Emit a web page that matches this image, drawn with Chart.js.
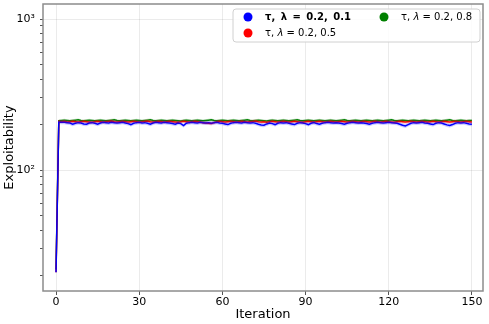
<!DOCTYPE html>
<html>
<head>
<meta charset="utf-8">
<script src="https://cdn.jsdelivr.net/npm/chart.js@4.4.1/dist/chart.umd.min.js"></script>
<style>
  html, body { margin: 0; padding: 0; background: #fff; }
  #c { display: block; }
</style>
</head>
<body>
<canvas id="c" width="489" height="324"></canvas>
<script>
var iterations = Array.from({length: 151}, function(_, i){ return i; });

// mean exploitability per iteration
var blueMean = [
  21,208,207,207,206,205,201,204,206,205,
  202,201,205,206,204,201,205,207,206,205,
  207,206,205,206,207,205,203,200,204,206,
  207,205,206,204,201,205,207,206,205,207,
  206,205,203,201,205,203,197,204,206,207,
  206,205,207,206,205,206,204,206,207,205,
  204,202,200,204,206,207,206,205,207,206,
  205,206,204,201,199,198,202,205,203,200,
  204,206,205,206,204,202,200,204,206,205,
  203,200,204,206,203,201,204,206,207,206,
  205,206,205,203,201,204,206,207,206,205,
  206,205,203,201,204,206,207,206,205,206,
  207,206,205,204,201,198,196,200,204,206,
  205,206,207,205,204,202,200,204,206,205,
  202,199,197,200,204,206,205,206,204,202,
  201
];
var redMean = [
  21,210,209,210,208,209,210,209,208,209,
  210,209,208,207,209,210,209,208,209,210,
  211,209,208,209,210,209,208,209,210,209,
  208,209,210,211,209,208,209,210,209,208,
  209,210,209,208,207,209,210,209,208,209,
  210,209,208,206,205,204,203,206,209,210,
  209,208,209,210,209,208,209,210,209,208,
  209,210,211,209,208,209,207,209,210,209,
  208,209,210,209,208,209,210,209,208,207,
  209,210,209,208,209,210,209,208,209,210,
  209,208,209,210,209,208,209,210,209,208,
  209,210,209,208,209,210,209,208,209,210,
  209,208,207,209,210,209,208,209,210,209,
  208,209,210,209,208,209,210,209,208,209,
  210,209,208,209,210,209,208,209,210,209,
  208
];
var greenMean = [
  22,212,213,214,213,212,213,214,215,213,
  212,213,214,213,212,213,214,213,212,213,
  214,215,213,212,213,214,213,212,213,214,
  213,212,213,214,215,213,212,213,214,213,
  212,213,214,213,212,211,213,214,213,212,
  213,214,213,212,213,214,215,213,212,213,
  214,213,212,213,214,213,212,213,214,215,
  213,212,213,214,213,212,211,213,214,213,
  212,213,214,213,212,213,214,215,213,212,
  213,214,213,212,213,214,213,212,213,214,
  213,212,213,214,215,213,212,213,214,213,
  212,213,214,213,212,213,214,213,212,213,
  214,215,213,212,213,214,213,212,213,214,
  213,212,213,214,213,212,213,214,213,212,
  213,214,215,213,212,213,214,213,212,213,
  213
];
// relative half-width of the shaded band
var blueSpread = 0.03;
var redSpread = 0.025;
var greenSpread = 0.02;

var seriesNames = ['τ, λ = 0.2, 0.1', 'τ, λ = 0.2, 0.5', 'τ, λ = 0.2, 0.8'];
var seriesColors = ['#0000ff', '#ff0000', '#008000'];
var bandColors = ['rgba(0,0,255,0.2)', 'rgba(255,0,0,0.2)', 'rgba(0,128,0,0.2)'];

var xTicks = [0, 30, 60, 90, 120, 150];
var yTicks = [20,30,40,50,60,70,80,90,100,200,300,400,500,600,700,800,900,1000];
var yLabels = {100: '10²', 1000: '10³'};

var FONT = "'DejaVu Sans', sans-serif";

function pts(vals, f) {
  return iterations.map(function(it, i){ return {x: it, y: vals[i] * f}; });
}

var means = [blueMean, redMean, greenMean];
var spreads = [blueSpread, redSpread, greenSpread];
var datasets = [];
for (var s = 0; s < 3; s++) {
  datasets.push({ data: pts(means[s], 1 + spreads[s]), borderWidth: 0, pointRadius: 0, fill: '+1', backgroundColor: bandColors[s] });
  datasets.push({ data: pts(means[s], 1 - spreads[s]), borderWidth: 0, pointRadius: 0, fill: false });
}
for (var s = 0; s < 3; s++) {
  datasets.push({ label: seriesNames[s], data: pts(means[s], 1), borderColor: seriesColors[s], borderWidth: 1.5, pointRadius: 0, fill: false, tension: 0 });
}

var framePlugin = {
  id: 'frame',
  afterDraw: function(chart) {
    var a = chart.chartArea, ctx = chart.ctx;
    ctx.save();
    ctx.strokeStyle = '#8c8c8c';
    ctx.lineWidth = 1.5;
    ctx.strokeRect(a.left, a.top, a.right - a.left, a.bottom - a.top);
    ctx.restore();
  }
};

var legendPlugin = {
  id: 'boxLegend',
  afterDraw: function(chart) {
    var ctx = chart.ctx;
    ctx.save();
    // box
    var bx = 233, by = 9, bw = 247, bh = 33, r = 3;
    ctx.beginPath();
    ctx.moveTo(bx + r, by);
    ctx.arcTo(bx + bw, by, bx + bw, by + bh, r);
    ctx.arcTo(bx + bw, by + bh, bx, by + bh, r);
    ctx.arcTo(bx, by + bh, bx, by, r);
    ctx.arcTo(bx, by, bx + bw, by, r);
    ctx.closePath();
    ctx.fillStyle = 'rgba(255,255,255,0.85)';
    ctx.fill();
    ctx.strokeStyle = '#d0d0d0';
    ctx.lineWidth = 1;
    ctx.stroke();

    var items = [
      {x: 248, y: 17, color: seriesColors[0], bold: true, text: seriesNames[0]},
      {x: 248, y: 33, color: seriesColors[1], bold: false, text: seriesNames[1]},
      {x: 384, y: 17, color: seriesColors[2], bold: false, text: seriesNames[2]}
    ];
    ctx.textBaseline = 'middle';
    items.forEach(function(it) {
      ctx.beginPath();
      ctx.arc(it.x, it.y, 4.5, 0, Math.PI * 2);
      ctx.fillStyle = it.color;
      ctx.fill();
      ctx.fillStyle = '#000';
      var tx = it.x + 17;
      if (it.bold) {
        ctx.font = 'bold 10px ' + FONT;
        ctx.fillText(it.text.replace(/ /g, ' \u2009'), tx, it.y);
      } else {
        var parts = it.text.split('λ');
        ctx.font = '10px ' + FONT;
        ctx.fillText(parts[0], tx, it.y);
        tx += ctx.measureText(parts[0]).width;
        ctx.font = 'italic 10px ' + FONT;
        ctx.fillText('λ', tx, it.y);
        tx += ctx.measureText('λ').width;
        ctx.font = '10px ' + FONT;
        ctx.fillText(parts[1], tx, it.y);
      }
    });
    ctx.restore();
  }
};

new Chart(document.getElementById('c'), {
  type: 'line',
  data: { datasets: datasets },
  plugins: [framePlugin, legendPlugin],
  options: {
    responsive: false,
    animation: false,
    layout: { padding: { top: 4, right: 6, left: 0, bottom: 0 } },
    plugins: { legend: { display: false }, tooltip: { enabled: false } },
    scales: {
      x: {
        type: 'linear',
        min: -4.7,
        max: 154,
        afterBuildTicks: function(scale) { scale.ticks = xTicks.map(function(v){ return {value: v}; }); },
        afterFit: function(scale) { scale.height = 33; scale.paddingLeft = 0; scale.paddingRight = 0; },
        border: { display: false },
        grid: { color: 'rgba(0,0,0,0.08)', tickColor: '#555', tickLength: 4 },
        ticks: { color: '#000', font: { family: FONT, size: 11 }, padding: 1, maxRotation: 0 },
        title: { display: true, text: 'Iteration', color: '#000', font: { family: FONT, size: 13 }, padding: { top: 0, bottom: 2 } }
      },
      y: {
        type: 'logarithmic',
        min: 15.8,
        max: 1258,
        afterBuildTicks: function(scale) { scale.ticks = yTicks.map(function(v){ return {value: v}; }); },
        afterFit: function(scale) { scale.width = 43; scale.paddingTop = 0; scale.paddingBottom = 0; },
        border: { display: false },
        grid: {
          color: function(c) { return yLabels[c.tick && c.tick.value] ? 'rgba(0,0,0,0.08)' : 'rgba(0,0,0,0)'; },
          tickColor: '#555',
          tickLength: 3
        },
        ticks: {
          color: '#000',
          font: { family: FONT, size: 11 },
          padding: 5,
          autoSkip: false,
          callback: function(v) { return yLabels[v] || ''; }
        },
        title: { display: true, text: 'Exploitability', color: '#000', font: { family: FONT, size: 13 }, padding: { top: 2, bottom: 0 } }
      }
    }
  }
});
</script>
</body>
</html>
